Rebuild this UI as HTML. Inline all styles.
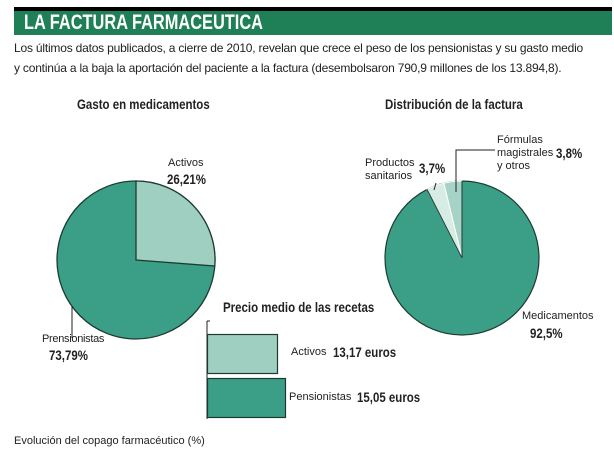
<!DOCTYPE html>
<html><head><meta charset="utf-8"><style>
body{margin:0;width:614px;height:459px;background:#fff;overflow:hidden;font-family:"Liberation Sans",sans-serif;color:#222}
.t{position:absolute;white-space:nowrap}
.b{font-weight:bold;transform:scaleX(0.82);transform-origin:left}
</style></head><body>
<div style="position:absolute;left:14px;top:7px;width:598px;height:4px;background:#000"></div>
<div style="position:absolute;left:14px;top:11px;width:598px;height:24px;background:#1f7f57"></div>
<div class="t b" style="left:24px;top:11px;font-size:21px;color:#fff;transform:scaleX(0.78)">LA FACTURA FARMACEUTICA</div>
<div class="t" style="left:14px;top:41px;font-size:12px;letter-spacing:-0.2px">Los últimos datos publicados, a cierre de 2010, revelan que crece el peso de los pensionistas y su gasto medio</div>
<div class="t" style="left:14px;top:61px;font-size:12px;letter-spacing:-0.2px">y continúa a la baja la aportación del paciente a la factura (desembolsaron 790,9 millones de los 13.894,8).</div>
<div class="t b" style="left:77px;top:96px;font-size:14px">Gasto en medicamentos</div>
<div class="t b" style="left:385px;top:96px;font-size:14px">Distribución de la factura</div>
<svg width="614" height="459" style="position:absolute;left:0;top:0">
<circle cx="136" cy="260" r="79" fill="#3a9f86" stroke="#1d3b32" stroke-width="1.3"/>
<path d="M136,260 L136,181 A79,79 0 0 1 214.8,266 Z" fill="#9fcfc0" stroke="#1d3b32" stroke-width="1.3"/>
<line x1="72" y1="306" x2="72" y2="338" stroke="#222" stroke-width="1"/>
<circle cx="462" cy="258" r="77" fill="#3a9f86" stroke="#1d3b32" stroke-width="1.2"/>
<path d="M462,258 L462,181 A77,77 0 0 0 443.8,183.2 Z" fill="#a6d3c5" stroke="#fff" stroke-width="1"/>
<path d="M462,258 L443.8,183.2 A77,77 0 0 0 427,189.4 Z" fill="#d6ece4" stroke="#fff" stroke-width="1"/>
<line x1="462" y1="258" x2="462" y2="181" stroke="#1d3b32" stroke-width="1"/>
<line x1="462" y1="258" x2="427" y2="189.4" stroke="#1d3b32" stroke-width="1"/>
<polyline points="456,192 456,150 495,150" fill="none" stroke="#222" stroke-width="1"/>
<line x1="436" y1="183" x2="434" y2="190" stroke="#222" stroke-width="1"/>
<line x1="207" y1="321" x2="207" y2="419" stroke="#222" stroke-width="1"/>
<line x1="207" y1="321" x2="210" y2="321" stroke="#222" stroke-width="1"/>
<rect x="207.5" y="334.5" width="70" height="39" fill="#9fcfc0" stroke="#1d3b32" stroke-width="1.2"/>
<rect x="207.5" y="378.5" width="78" height="39" fill="#3a9f86" stroke="#1d3b32" stroke-width="1.2"/>
</svg>
<div class="t" style="left:168px;top:157px;font-size:11px">Activos</div>
<div class="t b" style="left:167px;top:171px;font-size:14px">26,21%</div>
<div class="t" style="left:42px;top:333px;font-size:11px;letter-spacing:-0.3px">Prensionistas</div>
<div class="t b" style="left:49px;top:347px;font-size:14px">73,79%</div>
<div class="t" style="left:497px;top:134px;font-size:11px">Fórmulas</div>
<div class="t" style="left:497px;top:147px;font-size:11px">magistrales</div>
<div class="t" style="left:497px;top:160px;font-size:11px">y otros</div>
<div class="t b" style="left:556px;top:145px;font-size:14px">3,8%</div>
<div class="t" style="left:365px;top:157px;font-size:11px">Productos</div>
<div class="t" style="left:365px;top:170px;font-size:11px">sanitarios</div>
<div class="t b" style="left:419px;top:160px;font-size:14px">3,7%</div>
<div class="t" style="left:522px;top:310px;font-size:11px">Medicamentos</div>
<div class="t b" style="left:530px;top:325px;font-size:14px">92,5%</div>
<div class="t b" style="left:223px;top:299px;font-size:14px">Precio medio de las recetas</div>
<div class="t" style="left:291px;top:346px;font-size:11px">Activos</div>
<div class="t b" style="left:333px;top:344px;font-size:14px">13,17 euros</div>
<div class="t" style="left:289px;top:391px;font-size:11px">Pensionistas</div>
<div class="t b" style="left:357px;top:389px;font-size:14px">15,05 euros</div>
<div class="t" style="left:14px;top:435px;font-size:11px">Evolución del copago farmacéutico (%)</div>
</body></html>
